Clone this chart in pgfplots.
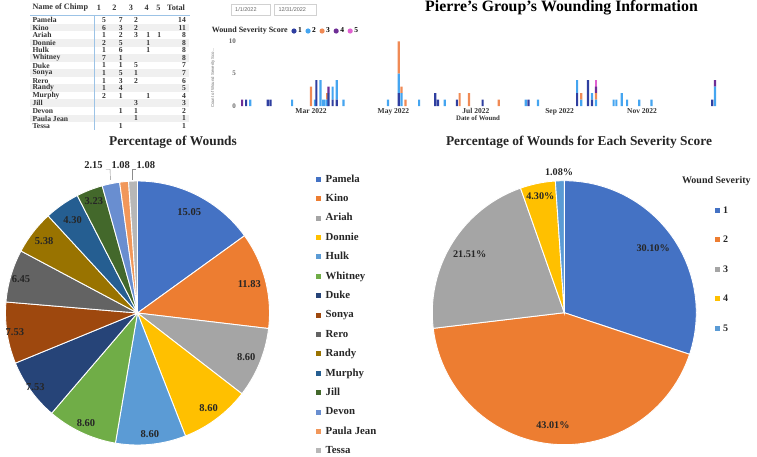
\documentclass[border=0pt]{standalone}
\usepackage{fontspec}
\setmainfont{Liberation Serif}
\setsansfont{Liberation Sans}
\usepackage{pgfplots}
\pgfplotsset{compat=1.18}
\usepackage{pgfplotstable}
\newcommand\fs[1]{\fontsize{#1}{#1}\selectfont}

\definecolor{pie0}{HTML}{4472C4}
\definecolor{pie1}{HTML}{ED7D31}
\definecolor{pie2}{HTML}{A5A5A5}
\definecolor{pie3}{HTML}{FFC000}
\definecolor{pie4}{HTML}{5B9BD5}
\definecolor{pie5}{HTML}{70AD47}
\definecolor{pie6}{HTML}{264478}
\definecolor{pie7}{HTML}{9E480E}
\definecolor{pie8}{HTML}{636363}
\definecolor{pie9}{HTML}{997300}
\definecolor{pie10}{HTML}{255E91}
\definecolor{pie11}{HTML}{43682B}
\definecolor{pie12}{HTML}{698ED0}
\definecolor{pie13}{HTML}{F1975A}
\definecolor{pie14}{HTML}{B7B7B7}
\definecolor{bs1}{HTML}{2F3FA0}
\definecolor{bs2}{HTML}{45A5F0}
\definecolor{bs3}{HTML}{F08A55}
\definecolor{bs4}{HTML}{6E2E95}
\definecolor{bs5}{HTML}{E060D0}
\definecolor{tblblue}{HTML}{9CC3E6}

\pgfplotsset{
 dotlegend/.style={legend image code/.code={\fill[##1] (2.5pt,0pt) circle (2.6pt);}},
 sqlegend/.style={legend image code/.code={\fill[##1,draw=none] (0pt,-2.5pt) rectangle (5pt,2.5pt);}},
}

% ---------- data ----------
\pgfplotstableread[col sep=comma]{
name,pct,lr
Pamela,15.05,0.86
Kino,11.83,0.875
Ariah,8.60,0.89
Donnie,8.60,0.90
Hulk,8.60,0.92
Whitney,8.60,0.92
Duke,7.53,0.955
Sonya,7.53,0.94
Rero,6.45,0.92
Randy,5.38,0.894
Murphy,4.30,0.86
Jill,3.23,0.91
Devon,2.15,0
Paula Jean,1.08,0
Tessa,1.08,0
}\chimps

\pgfplotstableread[col sep=comma]{
sev,pct,lr
1,30.10,0.83
2,43.01,0.86
3,21.51,0.845
4,4.30,0.90
5,1.08,0
}\sevs

% day of year, count per severity score
\pgfplotstableread{
day s1 s2 s3 s4 s5
9   0 0 0 1 0
12  1 0 0 0 0
15  0 1 0 0 0
28  1 0 0 0 0
30  1 0 0 0 0
46  0 1 0 0 0
60  0 0 3 0 0
63  0 1 0 0 0
64  4 0 0 0 0
67  0 4 0 0 0
69  0 1 0 0 0
70  0 1 0 0 0
72  0 1 1 0 0
73  2 0 0 1 0
76  1 2 0 0 0
79  1 3 0 0 0
84  0 1 0 0 0
117 0 1 0 0 0
125 2 3 5 0 0
127 0 2 1 0 0
130 0 0 1 0 0
140 0 1 0 0 0
152 2 0 0 0 0
154 1 0 0 0 0
159 0 1 0 0 0
168 1 0 0 0 0
170 0 0 2 0 0
177 0 0 2 0 0
187 1 0 0 0 0
199 0 0 1 0 0
219 0 1 0 0 0
221 1 0 0 0 0
228 0 1 0 0 0
257 2 2 0 0 0
260 0 1 1 0 0
265 4 0 0 0 0
268 1 1 0 0 0
271 0 1 1 1 1
284 0 1 0 0 0
286 0 1 0 0 0
290 0 2 0 0 0
294 0 1 0 0 0
303 0 1 0 0 0
312 0 1 0 0 0
357 1 0 0 0 0
359 0 3 0 1 0
}\wounds

% ---------- pie geometry from the data ----------
\xdef\ltot{0}
\foreach \i in {0,...,14}{%
  \pgfplotstablegetelem{\i}{pct}\of\chimps
  \pgfmathsetmacro\tmpa{\ltot+\pgfplotsretval}%
  \xdef\ltot{\tmpa}}
\xdef\cum{0}
\foreach \i in {0,...,14}{%
  \pgfplotstablegetelem{\i}{pct}\of\chimps \let\val\pgfplotsretval
  \pgfplotstablegetelem{\i}{lr}\of\chimps \let\lrr\pgfplotsretval
  \pgfmathsetmacro\sa{90-360*(\cum/\ltot)}%
  \pgfmathsetmacro\nc{\cum+\val}%
  \pgfmathsetmacro\ea{90-360*(\nc/\ltot)}%
  \pgfmathsetmacro\ma{(\sa+\ea)/2}%
  \pgfmathsetmacro\lx{\lrr*cos(\ma)}%
  \pgfmathsetmacro\ly{\lrr*sin(\ma)}%
  \expandafter\xdef\csname LS\i\endcsname{\sa}%
  \expandafter\xdef\csname LE\i\endcsname{\ea}%
  \expandafter\xdef\csname LX\i\endcsname{\lx}%
  \expandafter\xdef\csname LY\i\endcsname{\ly}%
  \expandafter\xdef\csname LV\i\endcsname{\val}%
  \xdef\cum{\nc}}

\xdef\rtot{0}
\foreach \i in {0,...,4}{%
  \pgfplotstablegetelem{\i}{pct}\of\sevs
  \pgfmathsetmacro\tmpa{\rtot+\pgfplotsretval}%
  \xdef\rtot{\tmpa}}
\xdef\cum{0}
\foreach \i in {0,...,4}{%
  \pgfplotstablegetelem{\i}{pct}\of\sevs \let\val\pgfplotsretval
  \pgfplotstablegetelem{\i}{lr}\of\sevs \let\lrr\pgfplotsretval
  \pgfmathsetmacro\sa{90-360*(\cum/\rtot)}%
  \pgfmathsetmacro\nc{\cum+\val}%
  \pgfmathsetmacro\ea{90-360*(\nc/\rtot)}%
  \pgfmathsetmacro\ma{(\sa+\ea)/2}%
  \pgfmathsetmacro\lx{\lrr*cos(\ma)}%
  \pgfmathsetmacro\ly{\lrr*sin(\ma)}%
  \expandafter\xdef\csname RS\i\endcsname{\sa}%
  \expandafter\xdef\csname RE\i\endcsname{\ea}%
  \expandafter\xdef\csname RX\i\endcsname{\lx}%
  \expandafter\xdef\csname RY\i\endcsname{\ly}%
  \expandafter\xdef\csname RV\i\endcsname{\val}%
  \xdef\cum{\nc}}

\begin{document}
\begin{tikzpicture}
\path[use as bounding box] (0pt,0pt) rectangle (757pt,456pt);

% ---------- table ----------
\foreach \i in {2,4,...,14}{%
  \pgfmathsetmacro\yA{456-(20+(\i-1)*7.57)-3.8}%
  \pgfmathsetmacro\yB{456-(20+(\i-1)*7.57)+3.8}%
  \fill[black!6] (30pt,\yA pt) rectangle (189pt,\yB pt);}
\draw[tblblue, line width=0.8pt] (30pt,441pt) -- (190pt,441pt);
\draw[tblblue, line width=0.8pt] (94.3pt,441pt) -- (94.3pt,326pt);
\begin{scope}[every node/.style={font=\bfseries\fs{8.2}, text=black!80, inner sep=0pt}]
\node[anchor=west] at (32.3pt,448.3pt) {Name of Chimp};
\node at (99pt,448.3pt) {1};
\node at (114.3pt,448.3pt) {2};
\node at (131pt,448.3pt) {3};
\node at (146.7pt,448.3pt) {4};
\node at (158.3pt,448.3pt) {5};
\node at (176pt,448.3pt) {Total};
\end{scope}
\begin{scope}[every node/.style={font=\bfseries\fs{7.6}, text=black!80, inner sep=0pt}]
\foreach \nm/\ca/\cb/\cc/\cd/\ce/\ct [count=\i] in {
 Pamela/5/7/2/{}/{}/14, Kino/6/3/2/{}/{}/11, Ariah/1/2/3/1/1/8,
 Donnie/2/5/{}/1/{}/8, Hulk/1/6/{}/1/{}/8, Whitney/7/1/{}/{}/{}/8,
 Duke/1/1/5/{}/{}/7, Sonya/1/5/1/{}/{}/7, Rero/1/3/2/{}/{}/6,
 Randy/1/4/{}/{}/{}/5, Murphy/2/1/{}/1/{}/4, Jill/{}/{}/3/{}/{}/3,
 Devon/{}/1/1/{}/{}/2, Paula Jean/{}/{}/1/{}/{}/1, Tessa/{}/1/{}/{}/{}/1}{%
  \pgfmathsetmacro\yy{456-(20+(\i-1)*7.57)}%
  \node[anchor=west] at (32.3pt,\yy pt) {\nm};
  \node at (104pt,\yy pt) {\ca};
  \node at (120.7pt,\yy pt) {\cb};
  \node at (136pt,\yy pt) {\cc};
  \node at (148.3pt,\yy pt) {\cd};
  \node at (159.3pt,\yy pt) {\ce};
  \node[anchor=east] at (186pt,\yy pt) {\ct};
}
\end{scope}

% ---------- date slicer ----------
\draw[black!18] (230.7pt,441pt) rectangle (270pt,452pt);
\draw[black!18] (274pt,441pt) rectangle (316pt,452pt);
\node[anchor=west, inner sep=0pt, font=\sffamily\fs{5.5}, text=black!60] at (235pt,446.5pt) {1/1/2022};
\node[anchor=west, inner sep=0pt, font=\sffamily\fs{5.5}, text=black!60] at (278.3pt,446.5pt) {12/31/2022};

% ---------- title ----------
\node[anchor=base, inner sep=0pt, font=\bfseries\fs{15.8}] at (561.5pt,444pt) {Pierre's Group's Wounding Information};

% ---------- wound bar chart ----------
\node[anchor=west, inner sep=0pt, font=\bfseries\fs{8}, text=black!85] at (211.7pt,425pt) {Wound Severity Score};
\node[rotate=90, inner sep=0pt, font=\sffamily\fs{4.3}, text=black!55] at (213pt,378pt) {Count of Wound Severity Sco...};
\node[inner sep=0pt, font=\bfseries\fs{6.8}, text=black!80] at (478pt,337.5pt) {Date of Wound};
\begin{axis}[at={(239.4pt,350pt)}, anchor=south west, scale only axis,
  width=479.6pt, height=64.7pt, xmin=7, xmax=362, ymin=0, ymax=10,
  ybar stacked, bar width=1.6, clip=false,
  axis line style={draw=none}, tick style={draw=none},
  xtick={60,121,182,244,305},
  xticklabels={Mar 2022,May 2022,Jul 2022,Sep 2022,Nov 2022},
  ytick={0,5,10},
  /pgf/number format/assume math mode=true,
  xticklabel style={font=\bfseries\fs{7.5}, text=black!80, yshift=1.2pt},
  yticklabel style={font=\bfseries\fs{7}, text=black!60},
  legend columns=5,
  legend style={at={(0.108,1.159)}, anchor=west, draw=none, fill=none,
    inner sep=0pt, font=\bfseries\fs{7.5}, column sep=1pt,
    nodes={inner sep=0.5pt},
    /tikz/every even column/.append style={column sep=3.1pt}},
]
\addplot[fill=bs1, draw=none, dotlegend] table[x=day,y=s1]{\wounds};
\addplot[fill=bs2, draw=none, dotlegend] table[x=day,y=s2]{\wounds};
\addplot[fill=bs3, draw=none, dotlegend] table[x=day,y=s3]{\wounds};
\addplot[fill=bs4, draw=none, dotlegend] table[x=day,y=s4]{\wounds};
\addplot[fill=bs5, draw=none, dotlegend] table[x=day,y=s5]{\wounds};
\legend{1,2,3,4,5}
\end{axis}

% ---------- left pie ----------
\node[anchor=base, inner sep=0pt, font=\bfseries\fs{13.4}, text=black!85] at (173pt,310pt) {Percentage of Wounds};
\begin{axis}[at={(137.5pt,143pt)}, anchor=center, scale only axis,
  width=264pt, height=264pt, xmin=-1, xmax=1, ymin=-1, ymax=1,
  hide axis, clip=false, legend cell align=left,
  legend style={at={(1.176,1.031)}, anchor=north west, draw=none, fill=none,
    inner sep=0pt, row sep=6.9pt, column sep=2.5pt, font=\bfseries\fs{10.8},
    text=black!85,
    /tikz/every even column/.append style={text height=7pt, text depth=2.5pt}},
]
\pgfplotsinvokeforeach{0,...,14}{%
  \addplot[fill=pie#1, draw=white, line width=0.9pt, sqlegend,
    domain=\csname LE#1\endcsname:\csname LS#1\endcsname, samples=40]
    ({cos(x)},{sin(x)}) -- (axis cs:0,0) -- cycle;
}
\pgfplotsinvokeforeach{0,...,11}{%
  \node[font=\bfseries\fs{10.5}, text=black!85] at (axis cs:\csname LX#1\endcsname,\csname LY#1\endcsname) {\csname LV#1\endcsname};
}
\node[font=\bfseries\fs{10.5}, text=black!85] at (axis cs:-0.333,1.121) {\csname LV12\endcsname};
\node[font=\bfseries\fs{10.5}, text=black!85] at (axis cs:-0.1265,1.121) {\csname LV13\endcsname};
\node[font=\bfseries\fs{10.5}, text=black!85] at (axis cs:0.063,1.121) {\csname LV14\endcsname};
\draw[black!45, line width=0.4pt] (axis cs:-0.239,1.089) -- (axis cs:-0.208,1.089) -- (axis cs:-0.205,1.008);
\draw[black!45, line width=0.4pt] (axis cs:-0.011,1.089) -- (axis cs:-0.039,1.089) -- (axis cs:-0.039,1.004);
\legend{Pamela,Kino,Ariah,Donnie,Hulk,Whitney,Duke,Sonya,Rero,Randy,Murphy,Jill,Devon,Paula Jean,Tessa}
\end{axis}

% ---------- right pie ----------
\node[anchor=base, inner sep=0pt, font=\bfseries\fs{13.4}, text=black!85] at (579pt,310pt) {Percentage of Wounds for Each Severity Score};
\node[inner sep=0pt, font=\bfseries\fs{10}, text=black!85] at (716.3pt,275.3pt) {Wound Severity};
\begin{axis}[at={(564.3pt,143.3pt)}, anchor=center, scale only axis,
  width=264pt, height=264pt, xmin=-1, xmax=1, ymin=-1, ymax=1,
  hide axis, clip=false, legend cell align=left,
  legend style={at={(1.0708,0.9117)}, anchor=north west, draw=none, fill=none,
    inner sep=0pt, row sep=17.0pt, column sep=1pt, font=\bfseries\fs{10},
    text=black!85,
    /tikz/every even column/.append style={text height=7pt, text depth=2.5pt}},
]
\pgfplotsinvokeforeach{0,...,4}{%
  \addplot[fill=pie#1, draw=white, line width=0.9pt, sqlegend,
    domain=\csname RE#1\endcsname:\csname RS#1\endcsname, samples=60]
    ({cos(x)},{sin(x)}) -- (axis cs:0,0) -- cycle;
}
\pgfplotsinvokeforeach{0,...,3}{%
  \node[font=\bfseries\fs{10.2}, text=black!85] at (axis cs:\csname RX#1\endcsname,\csname RY#1\endcsname) {\csname RV#1\endcsname\%};
}
\node[font=\bfseries\fs{10.2}, text=black!85] at (axis cs:-0.04,1.064) {\csname RV4\endcsname\%};
\legend{1,2,3,4,5}
\end{axis}
\end{tikzpicture}
\end{document}
